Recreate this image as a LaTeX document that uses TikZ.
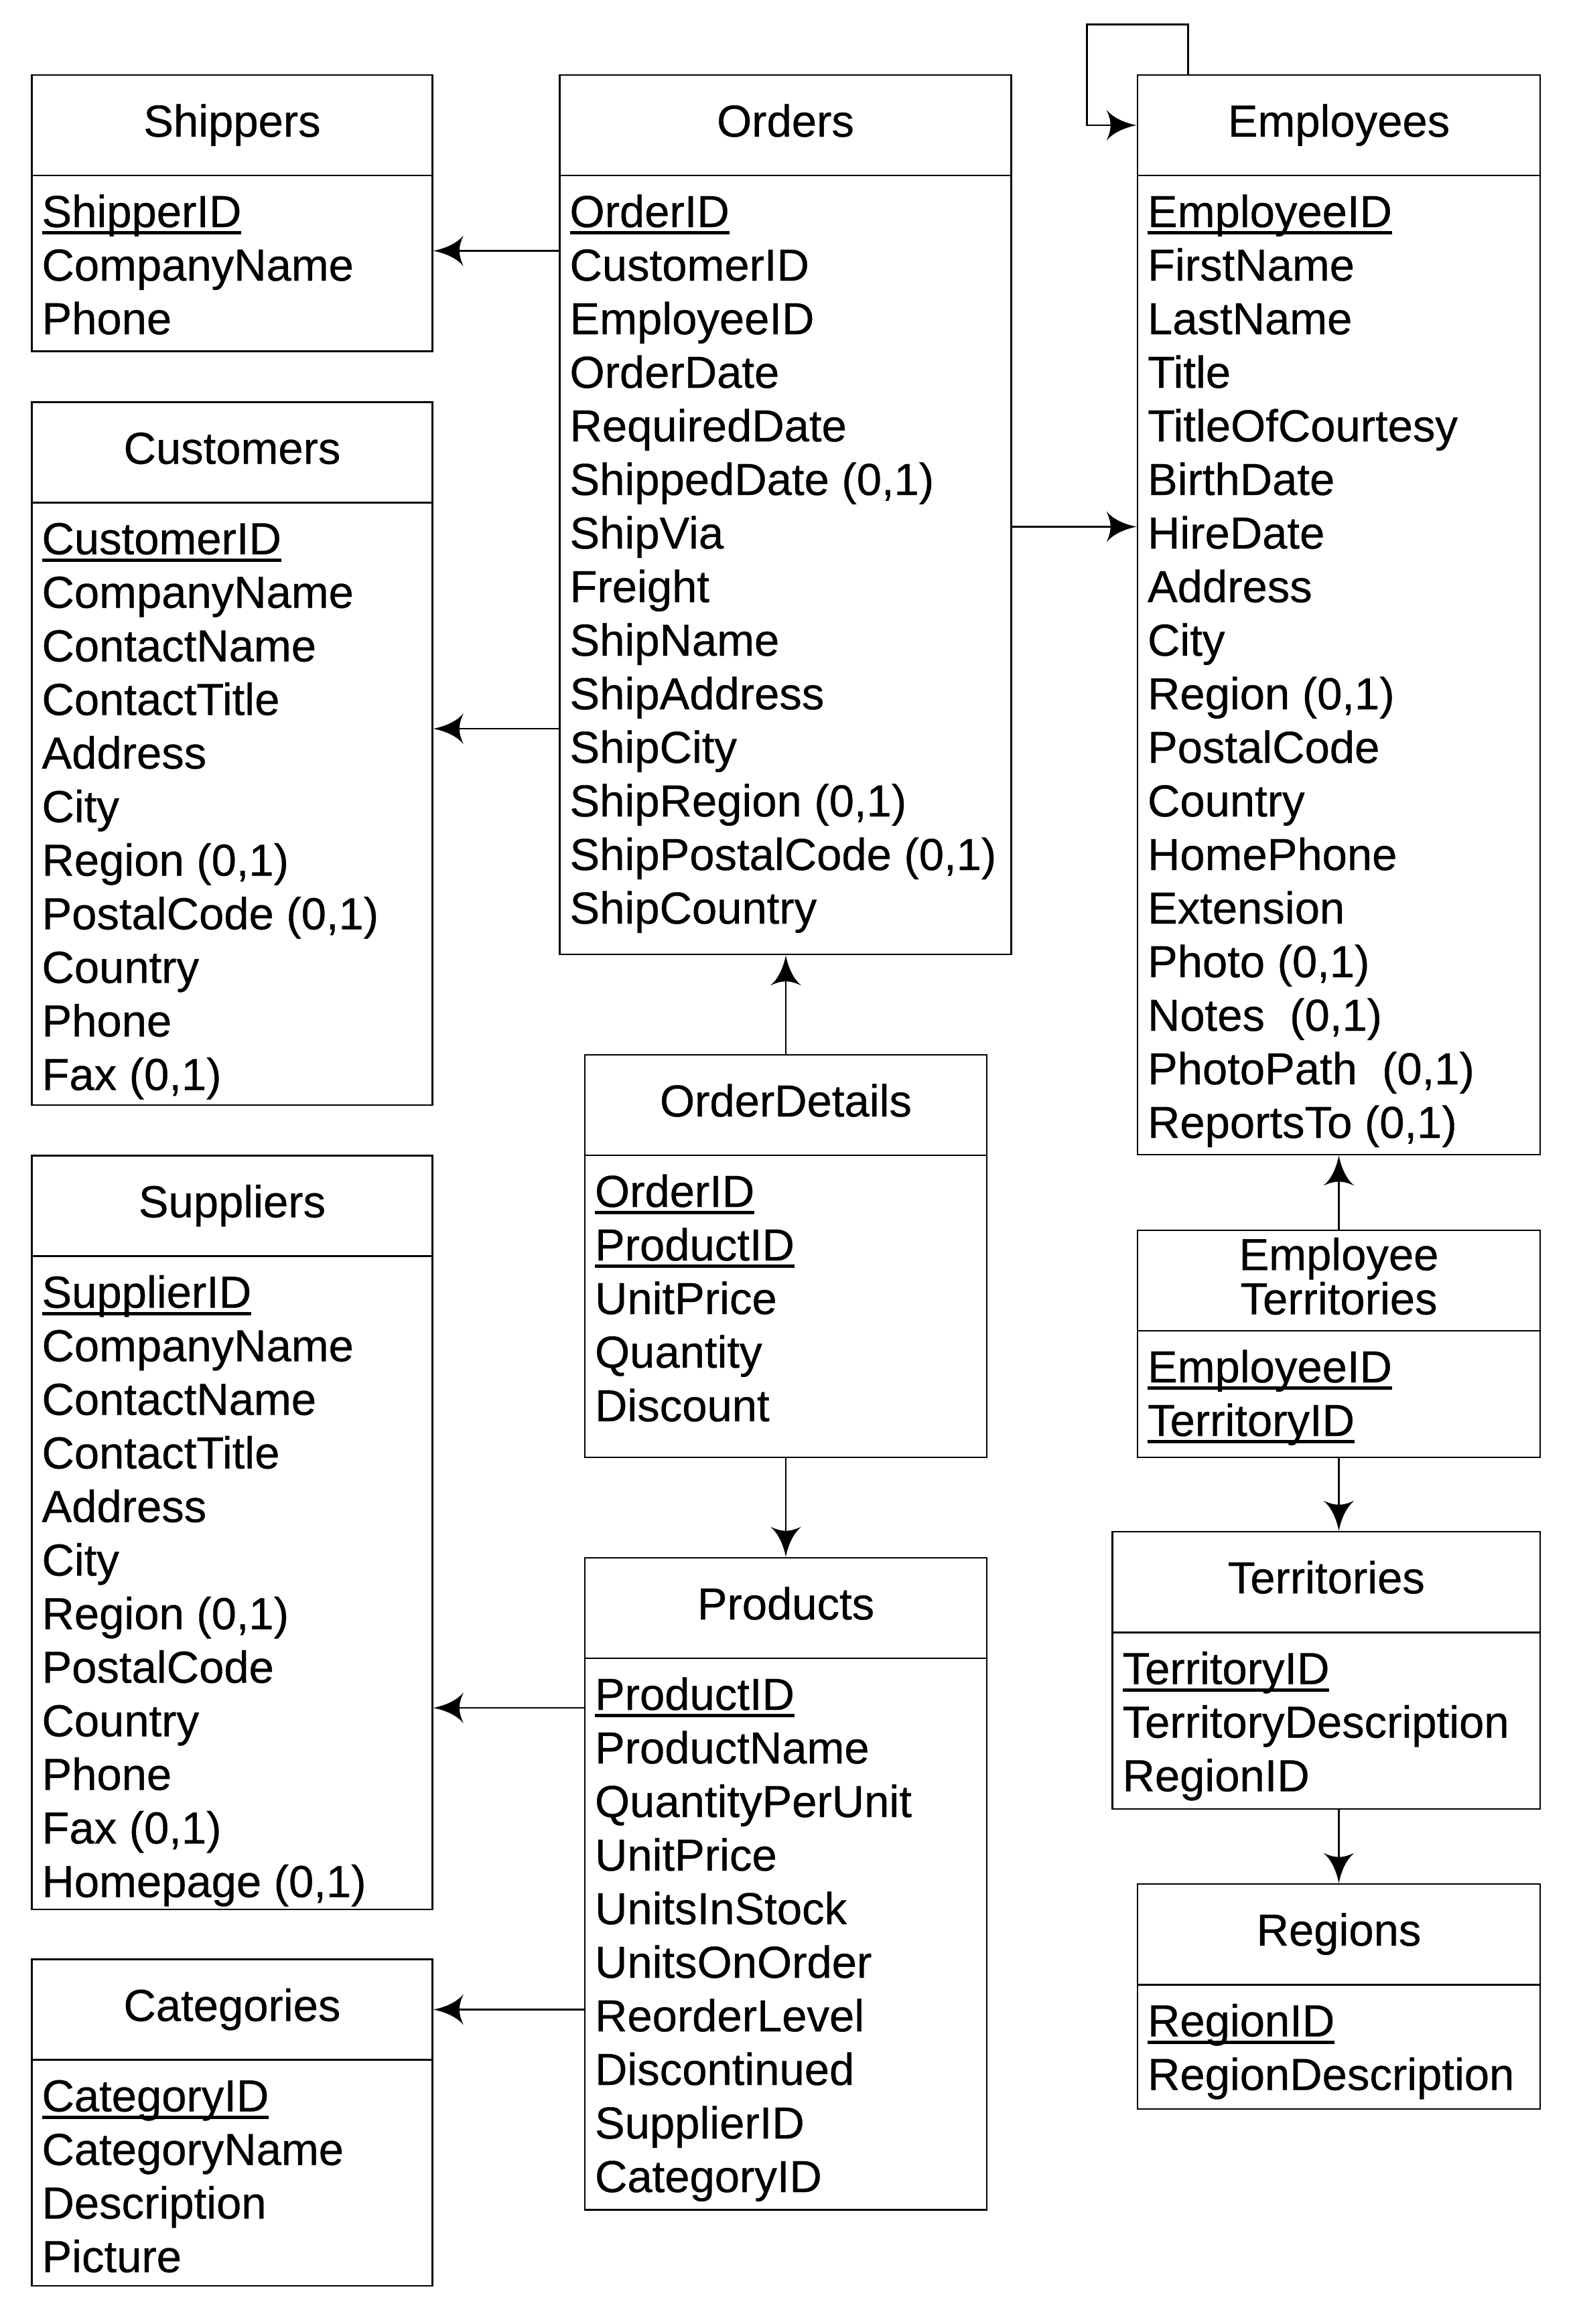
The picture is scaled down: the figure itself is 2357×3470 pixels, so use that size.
\documentclass[tikz,border=0pt]{standalone}
\usepackage{fontspec}
\setmainfont{Liberation Sans}[UprightFeatures={FakeBold=0.5}]
\pgfdeclarearrow{
  name = ERtip,
  setup code = {
    \pgfarrowssettipend{0pt}
    \pgfarrowssetlineend{-38pt}
    \pgfarrowssetbackend{-45pt}
    \pgfarrowshullpoint{0pt}{0pt}
    \pgfarrowsupperhullpoint{-45pt}{23pt}
  },
  drawing code = {
    \pgfpathmoveto{\pgfqpoint{0pt}{0pt}}
    \pgfpathcurveto{\pgfqpoint{-20pt}{4pt}}{\pgfqpoint{-36pt}{12pt}}{\pgfqpoint{-45pt}{23pt}}
    \pgfpathcurveto{\pgfqpoint{-41pt}{14pt}}{\pgfqpoint{-39pt}{7pt}}{\pgfqpoint{-39pt}{0pt}}
    \pgfpathcurveto{\pgfqpoint{-39pt}{-7pt}}{\pgfqpoint{-41pt}{-14pt}}{\pgfqpoint{-45pt}{-23pt}}
    \pgfpathcurveto{\pgfqpoint{-36pt}{-12pt}}{\pgfqpoint{-20pt}{-4pt}}{\pgfqpoint{0pt}{0pt}}
    \pgfpathclose
    \pgfusepathqfill
  }
}
\newcommand\keyattr[1]{\setbox0\hbox{#1}\rlap{\rule[-11pt]{\wd0}{5pt}}\box0}
\tikzset{
  box/.style={draw, line width=2.6pt, rectangle, inner sep=0pt, outer sep=0pt, anchor=north west},
  hdr/.style={box, minimum height=150pt, font=\fontsize{67}{80}\selectfont, text height=48pt, text depth=14pt},
  bodybox/.style={box},
  txt/.style={anchor=north west, inner sep=0pt, outer sep=0pt, align=left, font=\fontsize{67}{80}\selectfont},
  conn/.style={line width=2.6pt, -ERtip, shorten >=1.3pt},
}
\begin{document}
\begin{tikzpicture}[x=1pt,y=-1pt]
\useasboundingbox (0,0) rectangle (2357,3470);

% Shippers
\node[hdr, minimum width=598pt] (shipH) at (47.5,112) {Shippers};
\node[bodybox, minimum width=598pt, minimum height=262.5pt] (shipB) at (47.5,262) {};
\node[txt] (shipT) at (62.5,283) {\strut\keyattr{ShipperID}\\\strut CompanyName\\\strut Phone};

% Customers
\node[hdr, minimum width=598pt] (custH) at (47.5,600.5) {Customers};
\node[bodybox, minimum width=598pt, minimum height=899.5pt] (custB) at (47.5,750.5) {};
\node[txt] (custT) at (62.5,771.5) {\strut\keyattr{CustomerID}\\\strut CompanyName\\\strut ContactName\\\strut ContactTitle\\\strut Address\\\strut City\\\strut Region (0,1)\\\strut PostalCode (0,1)\\\strut Country\\\strut Phone\\\strut Fax (0,1)};

% Suppliers
\node[hdr, minimum width=598pt] (supH) at (47.5,1725.5) {Suppliers};
\node[bodybox, minimum width=598pt, minimum height=975.5pt] (supB) at (47.5,1875.5) {};
\node[txt] (supT) at (62.5,1896.5) {\strut\keyattr{SupplierID}\\\strut CompanyName\\\strut ContactName\\\strut ContactTitle\\\strut Address\\\strut City\\\strut Region (0,1)\\\strut PostalCode\\\strut Country\\\strut Phone\\\strut Fax (0,1)\\\strut Homepage (0,1)};

% Categories
\node[hdr, minimum width=598pt] (catH) at (47.5,2925.5) {Categories};
\node[bodybox, minimum width=598pt, minimum height=337.5pt] (catB) at (47.5,3075.5) {};
\node[txt] (catT) at (62.5,3096.5) {\strut\keyattr{CategoryID}\\\strut CategoryName\\\strut Description\\\strut Picture};

% Orders
\node[hdr, minimum width=674pt] (ordH) at (835.5,112) {Orders};
\node[bodybox, minimum width=674pt, minimum height=1163pt] (ordB) at (835.5,262) {};
\node[txt] (ordT) at (850.5,283) {\strut\keyattr{OrderID}\\\strut CustomerID\\\strut EmployeeID\\\strut OrderDate\\\strut RequiredDate\\\strut ShippedDate (0,1)\\\strut ShipVia\\\strut Freight\\\strut ShipName\\\strut ShipAddress\\\strut ShipCity\\\strut ShipRegion (0,1)\\\strut ShipPostalCode (0,1)\\\strut ShipCountry};

% OrderDetails
\node[hdr, minimum width=600pt] (odH) at (873,1575) {OrderDetails};
\node[bodybox, minimum width=600pt, minimum height=451pt] (odB) at (873,1725) {};
\node[txt] (odT) at (888,1746) {\strut\keyattr{OrderID}\\\strut\keyattr{ProductID}\\\strut UnitPrice\\\strut Quantity\\\strut Discount};

% Products
\node[hdr, minimum width=600pt] (prodH) at (873,2326) {Products};
\node[bodybox, minimum width=600pt, minimum height=823.5pt] (prodB) at (873,2476) {};
\node[txt] (prodT) at (888,2497) {\strut\keyattr{ProductID}\\\strut ProductName\\\strut QuantityPerUnit\\\strut UnitPrice\\\strut UnitsInStock\\\strut UnitsOnOrder\\\strut ReorderLevel\\\strut Discontinued\\\strut SupplierID\\\strut CategoryID};

% Employees
\node[hdr, minimum width=601pt] (empH) at (1698,112) {Employees};
\node[bodybox, minimum width=601pt, minimum height=1462pt] (empB) at (1698,262) {};
\node[txt] (empT) at (1713,283) {\strut\keyattr{EmployeeID}\\\strut FirstName\\\strut LastName\\\strut Title\\\strut TitleOfCourtesy\\\strut BirthDate\\\strut HireDate\\\strut Address\\\strut City\\\strut Region (0,1)\\\strut PostalCode\\\strut Country\\\strut HomePhone\\\strut Extension\\\strut Photo (0,1)\\\strut Notes~ (0,1)\\\strut PhotoPath~ (0,1)\\\strut ReportsTo (0,1)};

% Employee Territories
\node[box, minimum width=601pt, minimum height=150pt] (etH) at (1698,1837) {};
\node[anchor=north, inner sep=0pt, align=center, font=\fontsize{67}{66}\selectfont] (etHT) at (1998.5,1847.7) {\rule{0pt}{48pt}Employee\\Territories};
\node[bodybox, minimum width=601pt, minimum height=189pt] (etB) at (1698,1987) {};
\node[txt] (etT) at (1713,2008) {\strut\keyattr{EmployeeID}\\\strut\keyattr{TerritoryID}};

% Territories
\node[hdr, minimum width=638.5pt] (terH) at (1660.5,2287) {Territories};
\node[bodybox, minimum width=638.5pt, minimum height=263.5pt] (terB) at (1660.5,2437.5) {};
\node[txt] (terT) at (1675.5,2458.5) {\strut\keyattr{TerritoryID}\\\strut TerritoryDescription\\\strut RegionID};

% Regions
\node[hdr, minimum width=601pt] (regH) at (1698,2813) {Regions};
\node[bodybox, minimum width=601pt, minimum height=185.5pt] (regB) at (1698,2963.5) {};
\node[txt] (regT) at (1713,2984.5) {\strut\keyattr{RegionID}\\\strut RegionDescription};

% connectors
\coordinate (yShip) at (0,374.5);
\coordinate (yCust) at (0,1088);
\coordinate (yEmp) at (0,786.5);
\coordinate (ySup) at (0,2550);
\draw[conn] (ordB.west |- yShip) -- (shipB.east |- yShip);
\draw[conn] (ordB.west |- yCust) -- (custB.east |- yCust);
\draw[conn] (ordB.east |- yEmp) -- (empB.west |- yEmp);
\draw[conn] (odH.north) -- (ordB.south -| odH.north);
\draw[conn] (odB.south) -- (prodH.north);
\draw[conn] (prodB.west |- ySup) -- (supB.east |- ySup);
\draw[conn] (prodB.west |- catH.east) -- (catH.east);
\draw[conn] (etH.north) -- (empB.south);
\draw[conn] (etB.south) -- (etB.south |- terH.north);
\draw[conn] (regH.north |- terB.south) -- (regH.north);
\coordinate (loopR) at (1773.5,36.7);
\coordinate (loopL) at (1622.7,36.7);
\draw[conn] (empH.north -| loopR) -- (loopR) -- (loopL) |- (empH.west);
\end{tikzpicture}
\end{document}
